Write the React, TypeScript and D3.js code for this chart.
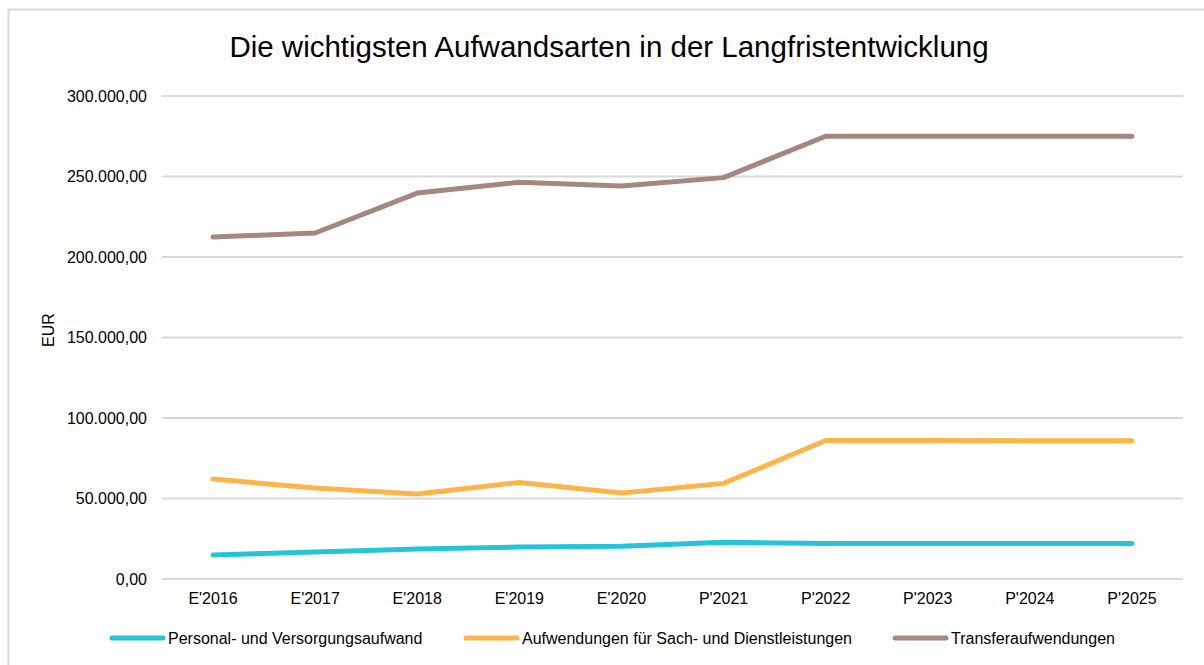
import React from "react";
import * as d3 from "d3";

const categories = ["E'2016", "E'2017", "E'2018", "E'2019", "E'2020", "P'2021", "P'2022", "P'2023", "P'2024", "P'2025"];
const personal = [14900, 16800, 18600, 19900, 20300, 22800, 22100, 22100, 22100, 22100];
const sach = [62100, 56500, 52800, 59900, 53400, 59400, 86000, 86000, 85800, 85800];
const transfer = [212400, 214900, 239700, 246400, 244100, 249300, 275000, 275000, 275000, 275000];
const yTicks = [0, 50000, 100000, 150000, 200000, 250000, 300000];
const seriesNames = ["Personal- und Versorgungsaufwand", "Aufwendungen für Sach- und Dienstleistungen", "Transferaufwendungen"];
const seriesColors = ["#26C4D8", "#FFB54A", "#A4887D"];

const FONT = "'Liberation Sans', Arial, sans-serif";

export default function App() {
  const W = 1204, H = 665;
  const x = d3.scalePoint<string>().domain(categories).range([162, 1183]).padding(0.5);
  const y = d3.scaleLinear().domain([0, 300000]).range([579, 96]);
  const fmt = (v: number) => {
    const s = d3.format(",.2f")(v);
    return s.replace(/,/g, "#").replace(".", ",").replace(/#/g, ".");
  };
  const line = d3.line<number>().x((_, i) => x(categories[i])!).y(v => y(v));
  const series = [personal, sach, transfer];
  const legendX = [110, 464, 893];
  return (
    <svg width={W} height={H} style={{ position: "absolute", left: 0, top: 0 }}>
      <rect x={0} y={0} width={W} height={H} fill="#fff" />
      <rect x={8.5} y={9.5} width={1230} height={700} fill="#fff" stroke="#d9d9d9" strokeWidth={2} />
      <text x={609} y={57} textAnchor="middle" fontFamily={FONT} fontSize={29.5} fill="#000">Die wichtigsten Aufwandsarten in der Langfristentwicklung</text>
      {yTicks.map(t => (
        <g key={t}>
          <line x1={162} x2={1183} y1={y(t)} y2={y(t)} stroke="#d9d9d9" strokeWidth={2} />
          <text x={147} y={y(t)} dy="0.35em" textAnchor="end" fontFamily={FONT} fontSize={16} fill="#000">{fmt(t)}</text>
        </g>
      ))}
      <text transform={`translate(54,330) rotate(-90)`} textAnchor="middle" fontFamily={FONT} fontSize={16} fill="#000">EUR</text>
      {categories.map(c => (
        <text key={c} x={x(c)} y={604} textAnchor="middle" fontFamily={FONT} fontSize={16} fill="#000">{c}</text>
      ))}
      {series.map((s, i) => (
        <path key={i} d={line(s) || ""} fill="none" stroke={seriesColors[i]} strokeWidth={5} strokeLinecap="round" strokeLinejoin="round" />
      ))}
      {seriesNames.map((n, i) => (
        <g key={n}>
          <line x1={legendX[i] + 2} x2={legendX[i] + 53} y1={638} y2={638} stroke={seriesColors[i]} strokeWidth={5} strokeLinecap="round" />
          <text x={legendX[i] + 58} y={638} dy="0.35em" fontFamily={FONT} fontSize={16} fill="#000">{n}</text>
        </g>
      ))}
    </svg>
  );
}
